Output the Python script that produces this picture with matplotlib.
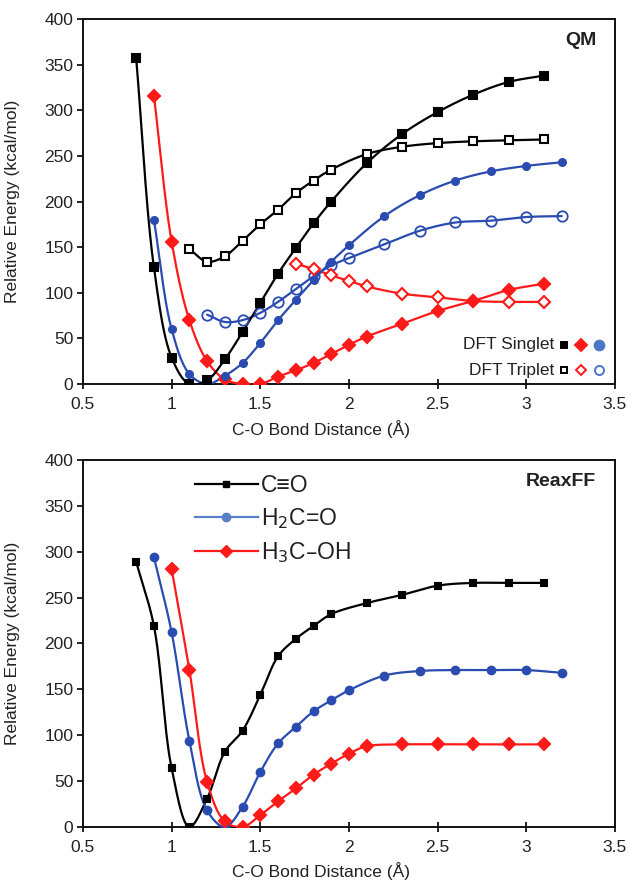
import numpy as np
import matplotlib
matplotlib.use("Agg")
import matplotlib.pyplot as plt
from matplotlib.lines import Line2D

plt.rcParams['font.family'] = ['Liberation Sans', 'DejaVu Sans']

# ---------------- QM (top) ----------------
co_s_x = [0.8, 0.9, 1.0, 1.1, 1.2, 1.3, 1.4, 1.5, 1.6, 1.7, 1.8, 1.9, 2.1, 2.3, 2.5, 2.7, 2.9, 3.1]
co_s_y = [357, 128, 29, 0, 4, 27, 57, 89, 121, 149, 176, 200, 242, 274, 298, 317, 331, 338]

co_t_x = [1.1, 1.2, 1.3, 1.4, 1.5, 1.6, 1.7, 1.8, 1.9, 2.1, 2.3, 2.5, 2.7, 2.9, 3.1]
co_t_y = [148, 134, 140, 157, 175, 191, 209, 223, 235, 252, 260, 264, 266, 267, 268]

h2co_s_x = [0.9, 1.0, 1.1, 1.2, 1.3, 1.4, 1.5, 1.6, 1.7, 1.8, 1.9, 2.0, 2.2, 2.4, 2.6, 2.8, 3.0, 3.2]
h2co_s_y = [180, 60, 11, 0, 9, 23, 45, 70, 92, 114, 134, 152, 184, 207, 223, 233, 239, 243]

h2co_t_x = [1.2, 1.3, 1.4, 1.5, 1.6, 1.7, 1.8, 1.9, 2.0, 2.2, 2.4, 2.6, 2.8, 3.0, 3.2]
h2co_t_y = [76, 68, 70, 78, 90, 104, 118, 130, 138, 153, 168, 177, 179, 183, 184]

ch3oh_s_x = [0.9, 1.0, 1.1, 1.2, 1.3, 1.4, 1.5, 1.6, 1.7, 1.8, 1.9, 2.0, 2.1, 2.3, 2.5, 2.7, 2.9, 3.1]
ch3oh_s_y = [316, 156, 70, 25, 5, 0, 0, 8, 15, 23, 33, 43, 52, 66, 80, 91, 103, 110]

ch3oh_t_x = [1.7, 1.8, 1.9, 2.0, 2.1, 2.3, 2.5, 2.7, 2.9, 3.1]
ch3oh_t_y = [132, 126, 119, 113, 107, 99, 95, 91, 90, 90]

# ---------------- ReaxFF (bottom) ----------------
rx_co_x = [0.8, 0.9, 1.0, 1.1, 1.2, 1.3, 1.4, 1.5, 1.6, 1.7, 1.8, 1.9, 2.1, 2.3, 2.5, 2.7, 2.9, 3.1]
rx_co_y = [289, 219, 64, 0, 31, 82, 105, 144, 186, 205, 219, 232, 244, 253, 263, 266, 266, 266]

rx_h2co_x = [0.9, 1.0, 1.1, 1.2, 1.3, 1.4, 1.5, 1.6, 1.7, 1.8, 1.9, 2.0, 2.2, 2.4, 2.6, 2.8, 3.0, 3.2]
rx_h2co_y = [294, 212, 94, 18, 0, 22, 60, 91, 109, 126, 138, 149, 165, 170, 171, 171, 171, 168]

rx_ch3oh_x = [1.0, 1.1, 1.2, 1.3, 1.4, 1.5, 1.6, 1.7, 1.8, 1.9, 2.0, 2.1, 2.3, 2.5, 2.7, 2.9, 3.1]
rx_ch3oh_y = [281, 171, 49, 6, 0, 13, 28, 42, 57, 69, 80, 88, 90, 90, 90, 90, 90]

legend_labels = ['C\u2261O', 'H$_2$C=O', 'H$_3$C\u2013OH']
x_ticks = [0.5, 1, 1.5, 2, 2.5, 3, 3.5]
x_ticklabels = ['0.5', '1', '1.5', '2', '2.5', '3', '3.5']
y_ticks = [0, 50, 100, 150, 200, 250, 300, 350, 400]

BLACK = '#000000'
RED = '#ff1a1a'
BLUE = '#2a4bb0'
TXT = '#222222'


def smooth(xs, ys, n=30, alpha=0.5):
    """Centripetal Catmull-Rom rendering of the line through the data points."""
    x = np.asarray(xs, float) / 3.0
    y = np.asarray(ys, float) / 400.0 * (365.0 / 532.0) * 3.0 / 3.0
    P = np.column_stack([x, y])
    P = np.vstack([2 * P[0] - P[1], P, 2 * P[-1] - P[-2]])
    out = []
    for i in range(1, len(P) - 2):
        p0, p1, p2, p3 = P[i - 1], P[i], P[i + 1], P[i + 2]
        t0 = 0.0
        t1 = t0 + max(np.linalg.norm(p1 - p0), 1e-9) ** alpha
        t2 = t1 + max(np.linalg.norm(p2 - p1), 1e-9) ** alpha
        t3 = t2 + max(np.linalg.norm(p3 - p2), 1e-9) ** alpha
        t = np.linspace(t1, t2, n, endpoint=False)[:, None]
        a1 = (t1 - t) / (t1 - t0) * p0 + (t - t0) / (t1 - t0) * p1
        a2 = (t2 - t) / (t2 - t1) * p1 + (t - t1) / (t2 - t1) * p2
        a3 = (t3 - t) / (t3 - t2) * p2 + (t - t2) / (t3 - t2) * p3
        b1 = (t2 - t) / (t2 - t0) * a1 + (t - t0) / (t2 - t0) * a2
        b2 = (t3 - t) / (t3 - t1) * a2 + (t - t1) / (t3 - t1) * a3
        c = (t2 - t) / (t2 - t1) * b1 + (t - t1) / (t2 - t1) * b2
        out.append(c)
    out.append(P[-2][None, :])
    out = np.vstack(out)
    return out[:, 0] * 3.0, out[:, 1] * 400.0 / (365.0 / 532.0)


def series(ax, xs, ys, color, marker, ms, mfc=None, mew=1.5, lw=1.6, z=3):
    sx, sy = smooth(xs, ys)
    ax.plot(sx, sy, color=color, lw=lw, zorder=z, solid_capstyle='round')
    ax.plot(xs, ys, linestyle='none', marker=marker, ms=ms, color=color,
            mfc=color if mfc is None else mfc, mec=color, mew=mew, zorder=z + 0.5)


def style_axes(ax):
    ax.set_xlim(0.5, 3.5)
    ax.set_ylim(0, 400)
    ax.set_xticks(x_ticks)
    ax.set_xticklabels(x_ticklabels)
    ax.set_yticks(y_ticks)
    for s in ax.spines.values():
        s.set_linewidth(1.4)
        s.set_color('#111111')
    ax.tick_params(axis='x', direction='inout', length=7, width=1.2, labelsize=12.5,
                   labelcolor=TXT, pad=6)
    ax.tick_params(axis='y', direction='out', length=4, width=1.2, labelsize=12.5,
                   labelcolor=TXT, pad=3)
    ax.set_ylabel('Relative Energy (kcal/mol)', fontsize=12.5, color=TXT, labelpad=6)
    ax.set_xlabel('C-O Bond Distance (\u00c5)', fontsize=12.5, color=TXT, labelpad=2)
    ax.xaxis.set_label_coords(0.447, -0.1)
    ax.yaxis.set_label_coords(-0.118, 0.5)


fig = plt.figure(figsize=(6.33, 8.84), dpi=100)
ax1 = fig.add_axes([0.1311, 0.5656, 0.8404, 0.4129])
ax2 = fig.add_axes([0.1311, 0.0645, 0.8404, 0.4152])

# ---- top panel ----
series(ax1, co_t_x, co_t_y, BLACK, 's', 6.3, mfc='white', mew=1.5)
series(ax1, h2co_t_x, h2co_t_y, BLUE, 'o', 7.5, mfc='none', mew=1.3)
series(ax1, ch3oh_t_x, ch3oh_t_y, RED, 'D', 6.0, mfc='white', mew=1.5)
series(ax1, ch3oh_s_x, ch3oh_s_y, RED, 'D', 6.0)
series(ax1, h2co_s_x, h2co_s_y, BLUE, 'o', 5.0)
series(ax1, co_s_x, co_s_y, BLACK, 's', 6.2)
style_axes(ax1)
ax1.text(0.965, 0.94, 'QM', transform=ax1.transAxes, ha='right', va='center',
         fontsize=14, fontweight='bold', color=TXT)

# custom key in the lower right
rows = [(0.108, 'DFT Singlet', None), (0.038, 'DFT Triplet', 'white')]
for yy, lab, face in rows:
    ax1.text(0.886, yy, lab, transform=ax1.transAxes, ha='right', va='center',
             fontsize=12.5, color=TXT)
    for xx, col, mk, ms in [(0.905, BLACK, 's', 5.0), (0.937, RED, 'D', 6.0),
                            (0.97, '#4a76c6', 'o', 7.0)]:
        fc = col if face is None else 'white'
        ax1.plot([xx], [yy], transform=ax1.transAxes, marker=mk, ms=ms if face is None else ms - 0.5,
                 color=col, mfc=fc, mec=col, mew=1.4, linestyle='none', clip_on=False)

# ---- bottom panel ----
series(ax2, rx_co_x, rx_co_y, BLACK, 's', 5.0)
series(ax2, rx_h2co_x, rx_h2co_y, BLUE, 'o', 5.5)
series(ax2, rx_ch3oh_x, rx_ch3oh_y, RED, 'D', 6.5)
style_axes(ax2)
ax2.xaxis.set_label_coords(0.447, -0.095)
ax2.text(0.965, 0.94, 'ReaxFF', transform=ax2.transAxes, ha='right', va='center',
         fontsize=14, fontweight='bold', color=TXT)

handles = [Line2D([], [], color=BLACK, marker='s', ms=5, lw=1.6),
           Line2D([], [], color='#5a7fca', marker='o', ms=6, lw=1.6),
           Line2D([], [], color=RED, marker='D', ms=6.5, lw=1.6)]
leg = ax2.legend(handles, legend_labels, loc='upper left', bbox_to_anchor=(0.18, 1.005),
                 frameon=False, fontsize=16.5, handlelength=2.75, handletextpad=0.15,
                 labelspacing=0.4, labelcolor=TXT, borderaxespad=0.3)

fig.savefig('out.png', dpi=100)
